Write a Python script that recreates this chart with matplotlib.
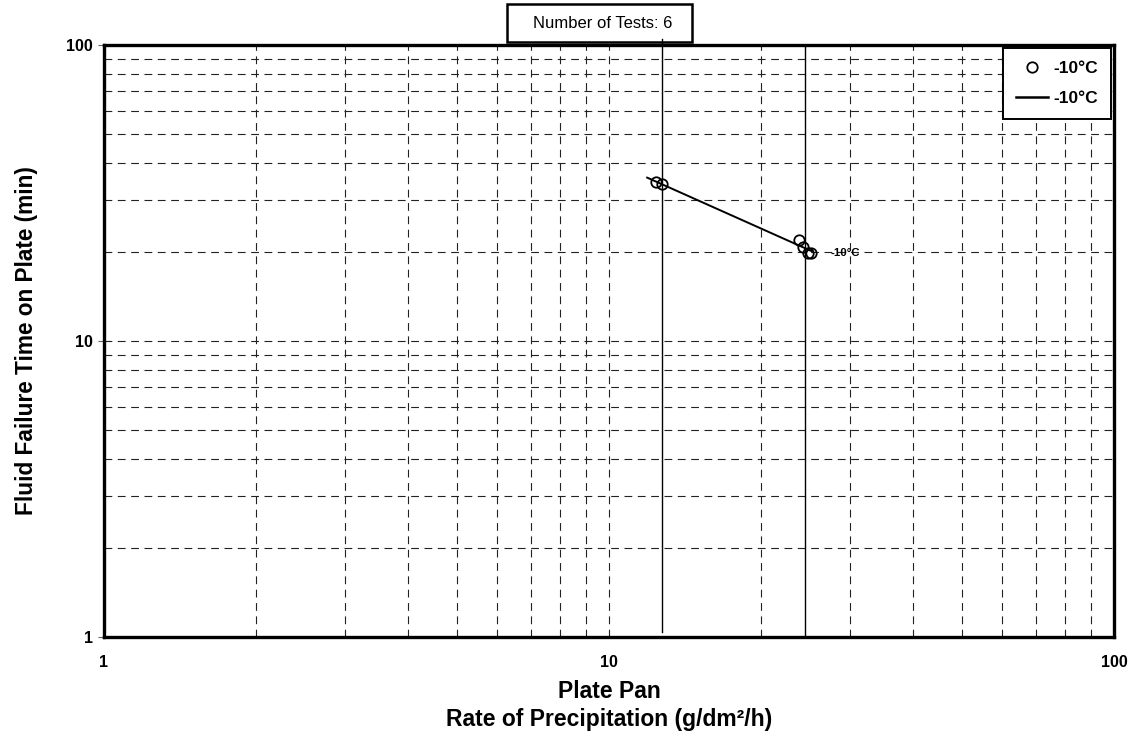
import numpy as np
import matplotlib
matplotlib.use("Agg")
import matplotlib.pyplot as plt
from matplotlib.patches import Rectangle
from matplotlib.lines import Line2D
from matplotlib.ticker import FixedLocator, FixedFormatter

plt.rcParams["font.family"] = ["Liberation Sans", "DejaVu Sans"]

# Test results at -10°C
rate = [12.37, 12.76, 23.8, 24.2, 24.8, 25.1]          # g/dm²/h
failure_time = [34.5, 33.8, 21.9, 20.8, 19.9, 19.8]     # min
series_label = "-10°C"
n_tests = 6

# Extent of the power-law fit and the precipitation range markers
fit_range = [11.9, 25.2]
range_markers = [12.76, 24.4]

x_ticks = [1, 10, 100]
y_ticks = [1, 10, 100]

W, H = 1133, 736
fig = plt.figure(figsize=(W / 100, H / 100), dpi=100)
ax = fig.add_axes([104 / W, 1 - 637 / H, (1114 - 104) / W, (637 - 45) / H])
ax.set_xscale("log")
ax.set_yscale("log")
ax.set_xlim(1, 100)
ax.set_ylim(1, 100)

# Dashed grid on every decade and sub-decade
grid_kw = dict(color="#222222", lw=0.8, ls=(0, (7, 5)), zorder=1)
for dec in (1, 10):
    for m in range(2, 10):
        ax.axvline(dec * m, **grid_kw)
        ax.axhline(dec * m, **grid_kw)
ax.axvline(10, **grid_kw)
ax.axhline(10, **grid_kw)

# Range markers
ax.axvline(range_markers[0], ymin=0.008, ymax=1.01, color="black", lw=1.0,
           clip_on=False, zorder=2)
ax.axvline(range_markers[1], ymin=0.0, ymax=1.0, color="black", lw=1.0, zorder=2)

# Power-law fit in log space
coef = np.polyfit(np.log10(rate), np.log10(failure_time), 1)
fx = np.array(fit_range)
fy = 10 ** np.polyval(coef, np.log10(fx))
ax.plot(fx, fy, color="black", lw=1.4, zorder=3)

ax.plot(rate, failure_time, ls="none", marker="o", ms=7.5, mfc="none",
        mec="black", mew=1.3, zorder=4)

ax.annotate(series_label, xy=(rate[-1], failure_time[-1]), xytext=(14, 0),
            textcoords="offset points", ha="left", va="center",
            fontsize=8.2, fontweight="bold")

# Axes styling
for s in ax.spines.values():
    s.set_linewidth(2.4)
    s.set_zorder(5)
ax.xaxis.set_major_locator(FixedLocator(x_ticks))
ax.xaxis.set_major_formatter(FixedFormatter([str(v) for v in x_ticks]))
ax.yaxis.set_major_locator(FixedLocator(y_ticks))
ax.yaxis.set_major_formatter(FixedFormatter([str(v) for v in y_ticks]))
ax.xaxis.set_minor_locator(FixedLocator([]))
ax.yaxis.set_minor_locator(FixedLocator([]))
ax.tick_params(axis="x", length=0, pad=13, labelsize=11.5)
ax.tick_params(axis="y", length=4, width=0.8, color="#666666", pad=4,
               labelsize=11.5)
for lab in ax.get_xticklabels() + ax.get_yticklabels():
    lab.set_fontweight("bold")

ax.set_xlabel("Plate Pan\nRate of Precipitation (g/dm²/h)", fontsize=16.5,
              fontweight="bold", labelpad=7, linespacing=1.3)
ax.set_ylabel("Fluid Failure Time on Plate (min)", fontsize=16.3,
              fontweight="bold", labelpad=20)

# Legend
handles = [
    Line2D([], [], ls="none", marker="o", ms=7.5, mfc="none", mec="black", mew=1.3),
    Line2D([], [], color="black", lw=1.8),
]
leg = ax.legend(handles, [series_label, series_label], loc="upper right",
                fancybox=False, framealpha=1, edgecolor="black",
                prop=dict(weight="bold", size=12.5), borderaxespad=0.15,
                handlelength=1.8, handletextpad=0.35, labelspacing=0.85,
                borderpad=0.75)
leg.get_frame().set_linewidth(1.4)
leg.set_zorder(6)

# Test count box above the plot
fig.add_artist(Rectangle((507 / W, 1 - 42 / H), 185 / W, 38 / H,
                         transform=fig.transFigure, fill=False,
                         edgecolor="black", lw=1.8))
fig.text(603 / W, 1 - 23 / H, f"Number of Tests: {n_tests}", ha="center",
         va="center", fontsize=12)

fig.savefig("out.png", dpi=100)
